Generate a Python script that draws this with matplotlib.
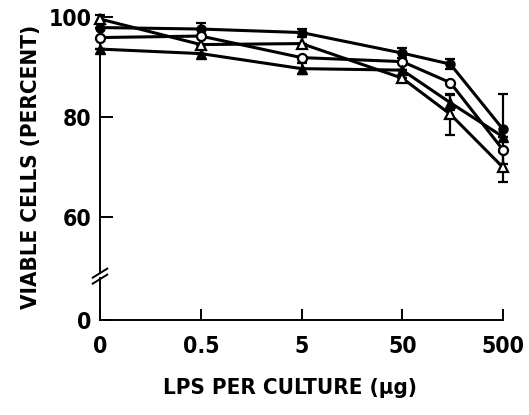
import numpy as np
import matplotlib

matplotlib.use("Agg")
import matplotlib.pyplot as plt
from matplotlib import font_manager

# doses (ug LPS per culture) and viability (%)
doses = [0, 0.5, 5, 50, 150, 500]
tick_doses = [0, 0.5, 5, 50, 500]
tick_labels = ["0", "0.5", "5", "50", "500"]

open_tri = [99.5, 94.4, 94.6, 87.7, 80.5, 69.9]
open_tri_err = [0.8, 0.0, 0.0, 0.0, 4.1, 3.0]
filled_circ = [97.8, 97.5, 96.8, 92.7, 90.5, 77.5]
filled_circ_err = [0.0, 1.3, 0.8, 1.0, 1.0, 7.0]
open_circ = [95.8, 96.1, 91.8, 91.0, 86.8, 73.4]
filled_tri = [93.5, 92.6, 89.6, 89.3, 82.8, 76.0]
filled_tri_err = [0.0, 0.0, 1.1, 0.0, 1.5, 0.0]

y_ticks = [60, 80, 100]


def pick_condensed():
    # look for a narrow / condensed bold face among installed fonts
    best = None
    for f in font_manager.fontManager.ttflist:
        tag = (f.fname + " " + f.name).lower()
        narrow = "narrow" in tag or "condensed" in tag or str(f.stretch) in (
            "condensed", "semi-condensed", "extra-condensed")
        if not narrow:
            continue
        bold = f.weight in ("bold", 700) or "bold" in tag
        score = (bold, "oblique" not in tag and "italic" not in tag)
        if best is None or score > best[0]:
            best = (score, f.fname)
    return best[1] if best else None


fname = pick_condensed()
if fname:
    fp = font_manager.FontProperties(fname=fname)
else:
    fp = font_manager.FontProperties(family="DejaVu Sans", weight="bold")
tick_size = 16.5 if fname else 14
label_size = 16 if fname else 13.5


def dose_pos(d):
    d = np.asarray(d, dtype=float)
    out = np.zeros_like(d)
    nz = d > 0
    out[nz] = np.log10(d[nz] / 0.05)
    return out


x = dose_pos(doses)

fig = plt.figure(figsize=(5.29, 4.15), dpi=100)
ax = fig.add_axes([100 / 529, 95 / 415, 403 / 529, 305 / 415])

y_zero = 39.45  # where the "0" sits below the axis break
ax.set_ylim(y_zero, 100.3)
ax.set_xlim(0, 4)

lw = 2.2
style = dict(color="black", lw=lw, ms=6.5, capsize=3.5, elinewidth=1.6,
             capthick=1.6, clip_on=False, zorder=3)
ax.errorbar(x, open_tri, yerr=open_tri_err, marker="^", mfc="white", mew=1.6, **style)
ax.errorbar(x, filled_circ, yerr=filled_circ_err, marker="o", mfc="black", **style)
ax.errorbar(x, open_circ, marker="o", mfc="white", mew=1.6, **style)
ax.errorbar(x, filled_tri, yerr=filled_tri_err, marker="^", mfc="black", **style)

for s in ["top", "right", "left"]:
    ax.spines[s].set_visible(False)
ax.spines["bottom"].set_linewidth(1.4)

# y axis drawn by hand with a break
tr = ax.get_yaxis_transform()
ax.plot([0, 0], [y_zero, 47.9], color="black", lw=1.4, transform=tr, clip_on=False)
ax.plot([0, 0], [48.9, 100.3], color="black", lw=1.4, transform=tr, clip_on=False)
for yb in (47.6, 48.8):
    ax.plot([-0.018, 0.018], [yb - 0.9, yb + 0.9], color="black", lw=1.4,
            transform=tr, clip_on=False)

ax.set_xticks(dose_pos(tick_doses))
ax.set_xticklabels(tick_labels, fontproperties=fp, fontsize=tick_size)
ax.set_yticks([y_zero] + y_ticks)
ax.set_yticklabels(["0"] + [str(v) for v in y_ticks], fontproperties=fp, fontsize=tick_size)
ax.tick_params(axis="x", direction="in", length=8, width=1.4, pad=11)
ax.tick_params(axis="y", direction="in", length=9, width=1.4, pad=6)

ax.set_xlabel("LPS PER CULTURE (\u03bcg)", fontproperties=fp, fontsize=label_size)
ax.set_ylabel("VIABLE CELLS (PERCENT)", fontproperties=fp, fontsize=label_size)
ax.xaxis.set_label_coords(190 / 403, -58 / 305)
ax.yaxis.set_label_coords(-59 / 403, 153 / 305)

fig.savefig("out.png", dpi=100)
